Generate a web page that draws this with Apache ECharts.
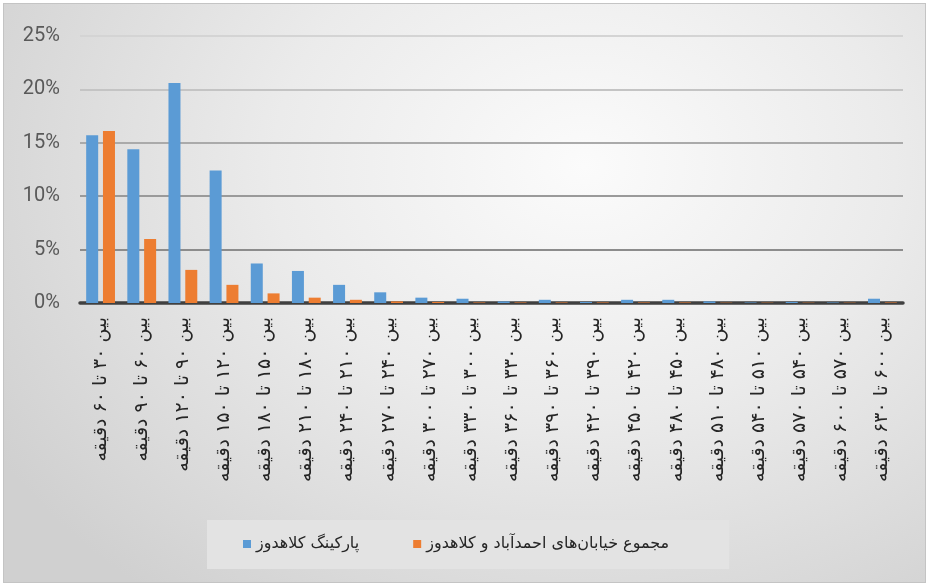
<!DOCTYPE html>
<html>
<head>
<meta charset="utf-8">
<script src="https://cdn.jsdelivr.net/npm/echarts@6/dist/echarts.min.js"></script>
<style>
html,body{margin:0;padding:0;background:#ffffff;width:929px;height:585px;overflow:hidden;}
#frame{position:absolute;left:3px;top:3px;width:921px;height:578px;border:1px solid #c4c4c4;
background:radial-gradient(ellipse 75% 95% at 63% 28%, #fbfbfb 0%, #ebebeb 45%, #d0d0d0 100%);}
#chart{position:absolute;left:0;top:0;width:929px;height:585px;}
</style>
</head>
<body>
<div id="frame"></div>
<div id="chart"></div>
<script>
// Category labels (minutes ranges)
var categories = [
  'بین ۳۰ تا ۶۰ دقیقه','بین ۶۰ تا ۹۰ دقیقه','بین ۹۰ تا ۱۲۰ دقیقه','بین ۱۲۰ تا ۱۵۰ دقیقه',
  'بین ۱۵۰ تا ۱۸۰ دقیقه','بین ۱۸۰ تا ۲۱۰ دقیقه','بین ۲۱۰ تا ۲۴۰ دقیقه','بین ۲۴۰ تا ۲۷۰ دقیقه',
  'بین ۲۷۰ تا ۳۰۰ دقیقه','بین ۳۰۰ تا ۳۳۰ دقیقه','بین ۳۳۰ تا ۳۶۰ دقیقه','بین ۳۶۰ تا ۳۹۰ دقیقه',
  'بین ۳۹۰ تا ۴۲۰ دقیقه','بین ۴۲۰ تا ۴۵۰ دقیقه','بین ۴۵۰ تا ۴۸۰ دقیقه','بین ۴۸۰ تا ۵۱۰ دقیقه',
  'بین ۵۱۰ تا ۵۴۰ دقیقه','بین ۵۴۰ تا ۵۷۰ دقیقه','بین ۵۷۰ تا ۶۰۰ دقیقه','بین ۶۰۰ تا ۶۳۰ دقیقه'
];
// Series names
var seriesParkingName = 'پارکینگ کلاهدوز';
var seriesStreetsName = 'مجموع خیابان‌های احمدآباد و کلاهدوز';
// Values in percent
var parkingValues = [15.7, 14.4, 20.6, 12.4, 3.7, 3.0, 1.7, 1.0, 0.5, 0.4, 0.15, 0.3, 0.1, 0.3, 0.3, 0.15, 0.05, 0.1, 0.05, 0.4];
var streetsValues = [16.1, 6.0, 3.1, 1.7, 0.9, 0.5, 0.3, 0.15, 0.1, 0.05, 0.05, 0.05, 0.05, 0.05, 0.05, 0.03, 0.03, 0.03, 0.03, 0.05];
// Y axis ticks
var yMin = 0, yMax = 25, yStep = 5;

var chart = echarts.init(document.getElementById('chart'), null, {renderer:'canvas'});
var arabicFont = '"DejaVu Sans", sans-serif';
chart.setOption({
  backgroundColor: 'transparent',
  animation: false,
  grid: {left: 80, right: 26, top: 36, bottom: 282, containLabel: false},
  legend: {
    data: [seriesParkingName, seriesStreetsName],
    left: 207, top: 520,
    padding: [16, 60, 17, 36],
    backgroundColor: '#e3e3e3',
    itemWidth: 8, itemHeight: 8, itemGap: 54,
    icon: 'rect',
    textStyle: {fontFamily: arabicFont, fontSize: 16, color: '#262626'}
  },
  xAxis: {
    type: 'category',
    data: categories,
    axisLine: {lineStyle: {color: '#404040', width: 3.5}},
    axisTick: {show: false},
    axisLabel: {interval: 0, rotate: 90, margin: 14, fontFamily: arabicFont, fontSize: 19, color: '#262626'}
  },
  yAxis: {
    type: 'value',
    min: yMin, max: yMax, interval: yStep,
    axisLine: {show: false},
    axisTick: {show: false},
    axisLabel: {formatter: '{value}%', margin: 20, fontFamily: 'Roboto, sans-serif', fontSize: 20, color: '#595959'},
    splitLine: {lineStyle: {color: ['#888888','#8c8c8c','#9a9a9a','#aaaaaa','#c4c4c4','#d4d4d4'], width: 2}}
  },
  series: [
    {name: seriesParkingName, type: 'bar', data: parkingValues, barWidth: 12, barGap: '40%',
     itemStyle: {color: '#5B9BD5'}},
    {name: seriesStreetsName, type: 'bar', data: streetsValues, barWidth: 12, barGap: '40%',
     itemStyle: {color: '#ED7D31'}}
  ]
});
</script>
</body>
</html>
